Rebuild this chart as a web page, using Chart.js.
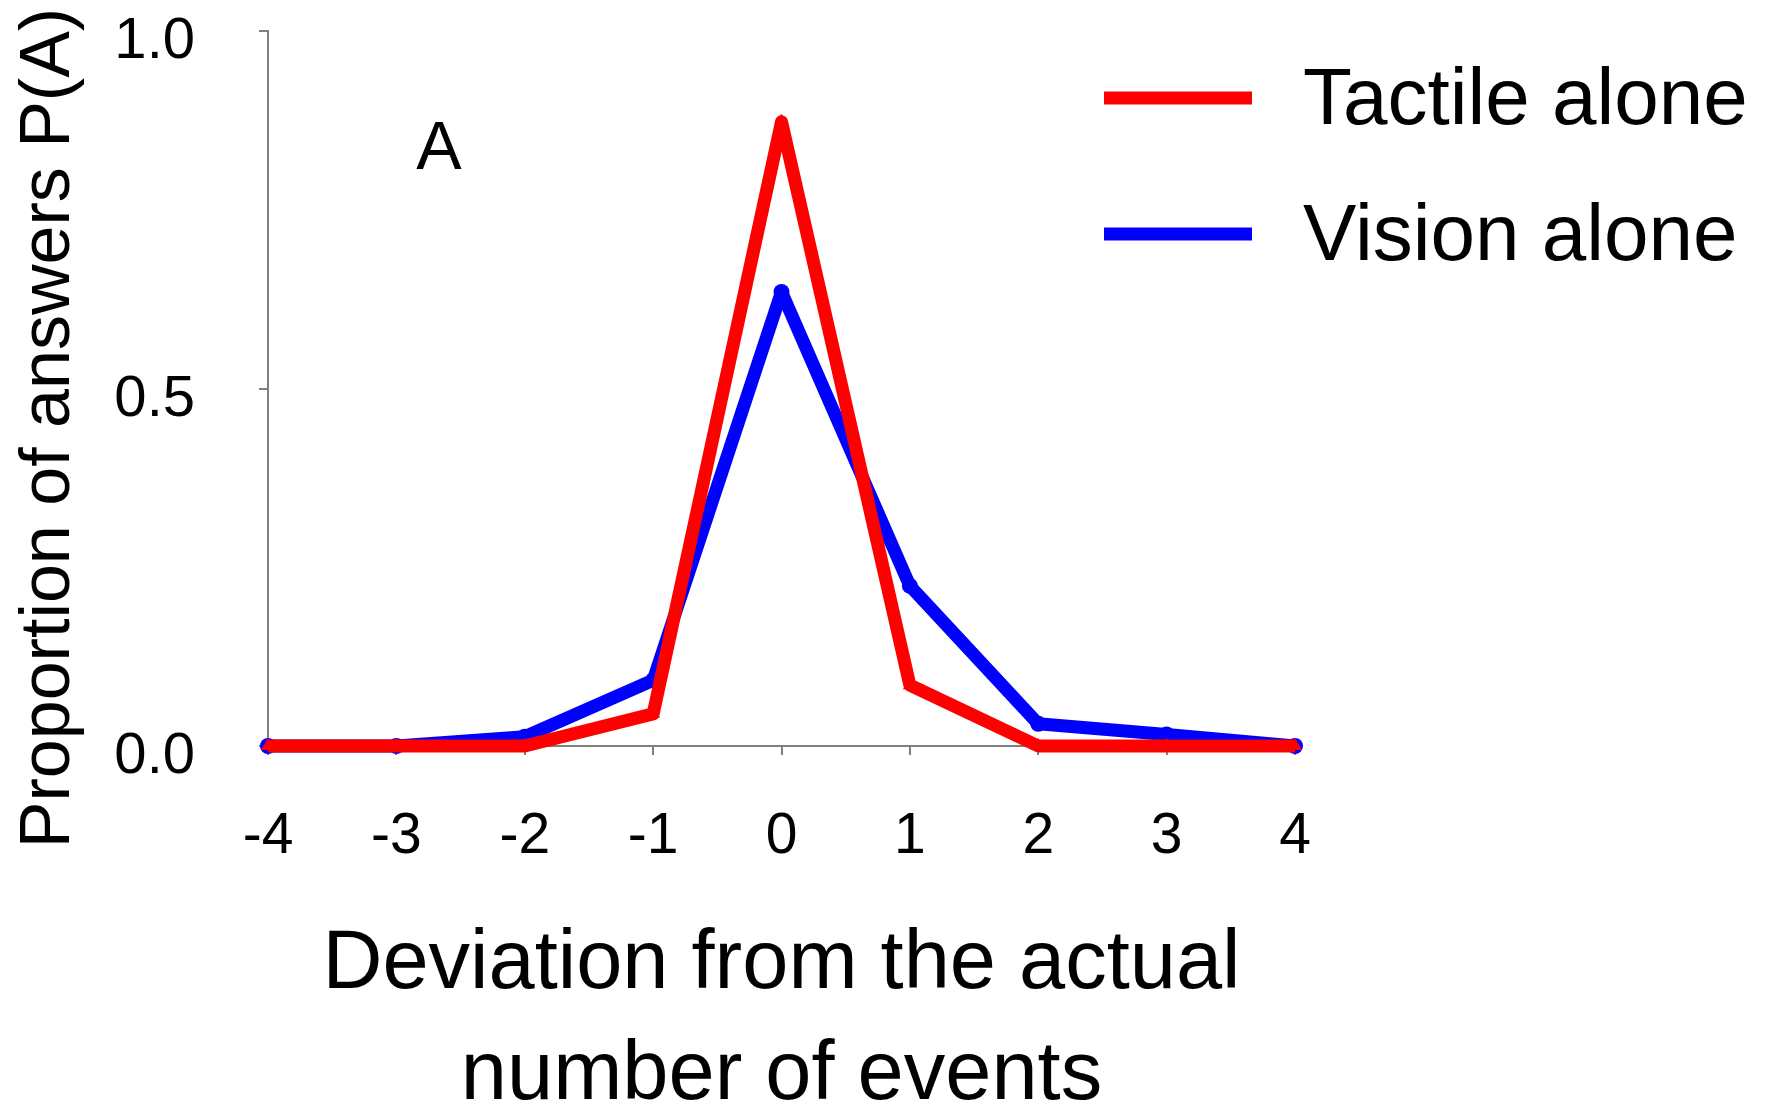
<!DOCTYPE html>
<html>
<head>
<meta charset="utf-8">
<script src="https://cdn.jsdelivr.net/npm/chart.js@4.4.1/dist/chart.umd.min.js"></script>
<style>
  body { margin: 0; background: #fff; }
</style>
</head>
<body>
<canvas id="myChart" width="1776" height="1107"></canvas>
<script>
const deviations = ['-4', '-3', '-2', '-1', '0', '1', '2', '3', '4']
const tactileAlone = [0, 0, 0, 0.045, 0.873, 0.085, 0, 0, 0]
const visionAlone = [0, 0, 0.013, 0.092, 0.635, 0.224, 0.031, 0.016, 0]
const yTicks = [0, 0.5, 1.0]
const yTitle = 'Proportion of answers P(A)'
const xTitle = ['Deviation from the actual', 'number of events']
const panelLabel = 'A'

const font = 'Liberation Sans, Arial, sans-serif'
const axisGray = '#808080'

// legend, panel letter and rotated y title drawn on top of the chart
const extras = {
    id: 'extras',
    afterDraw(chart) {
        const c = chart.ctx
        c.save()
        c.fillStyle = '#000'
        c.textBaseline = 'middle'

        c.font = '80px ' + font
        chart.data.datasets.forEach((ds, i) => {
            const y = 98 + i * 136
            c.strokeStyle = ds.borderColor
            c.lineWidth = 13
            c.beginPath()
            c.moveTo(1104, y)
            c.lineTo(1252, y)
            c.stroke()
            c.textAlign = 'left'
            c.fillText(ds.label, 1303, y + 4)
        })

        c.font = '68px ' + font
        c.textAlign = 'center'
        c.fillText(panelLabel, 439, 150)

        c.font = '70px ' + font
        c.translate(50, 428)
        c.rotate(-Math.PI / 2)
        c.fillText(yTitle, 0, 0)
        c.restore()
    }
}

const ctx = document.getElementById('myChart')

const myChart = new Chart(ctx, {
    type: 'line',
    data: {
        labels: deviations,
        datasets: [{
            label: 'Tactile alone',
            data: tactileAlone,
            borderColor: 'rgb(255, 0, 0)',
            backgroundColor: 'rgb(255, 0, 0)',
            borderWidth: 13,
            borderJoinStyle: 'round',
            pointStyle: 'triangle',
            pointRadius: 8,
            pointBorderWidth: 0,
            clip: false
        }, {
            label: 'Vision alone',
            data: visionAlone,
            borderColor: 'rgb(0, 0, 255)',
            backgroundColor: 'rgb(0, 0, 255)',
            borderWidth: 13,
            borderJoinStyle: 'round',
            pointStyle: 'circle',
            pointRadius: 8,
            pointBorderWidth: 0,
            clip: false
        }]
    },
    options: {
        responsive: false,
        animation: false,
        layout: { padding: { top: 31, right: 481, left: 0, bottom: 0 } },
        plugins: {
            legend: { display: false },
            tooltip: { enabled: false }
        },
        scales: {
            x: {
                type: 'category',
                offset: false,
                border: { display: true, color: axisGray, width: 2 },
                grid: { drawOnChartArea: false, drawTicks: true, tickLength: 9, color: axisGray, lineWidth: 2 },
                ticks: { color: '#000', padding: 54, font: { family: font, size: 57, lineHeight: 1 }, maxRotation: 0, autoSkip: false },
                title: {
                    display: true,
                    text: xTitle,
                    color: '#000',
                    font: { family: font, size: 83, lineHeight: 1.33 },
                    padding: { top: 0, bottom: -24 }
                },
                afterFit(scale) {
                    scale.height = 361
                    scale.paddingLeft = 0
                    scale.paddingRight = 0
                }
            },
            y: {
                min: 0,
                max: 1,
                border: { display: true, color: axisGray, width: 2 },
                grid: { drawOnChartArea: false, drawTicks: true, tickLength: 9, color: axisGray, lineWidth: 2 },
                afterBuildTicks(scale) { scale.ticks = yTicks.map(v => ({ value: v })) },
                ticks: {
                    color: '#000',
                    padding: 64,
                    labelOffset: 11,
                    font: { family: font, size: 58, lineHeight: 1 },
                    callback: v => v.toFixed(1)
                },
                afterFit(scale) {
                    scale.width = 268
                    scale.paddingTop = 0
                    scale.paddingBottom = 0
                }
            }
        }
    },
    plugins: [extras]
})
</script>
</body>
</html>
